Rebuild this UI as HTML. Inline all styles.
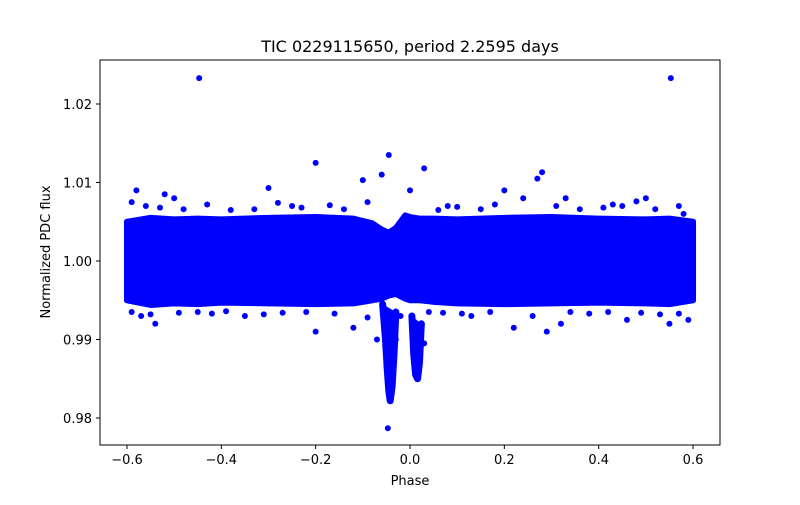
<!DOCTYPE html>
<html><head><meta charset="utf-8"><style>
body{margin:0;background:#fff}
svg text{font-family:"DejaVu Sans","Liberation Sans",sans-serif;fill:#000}
</style></head><body>
<svg id="chart" width="800" height="500" viewBox="0 0 800 500">
<rect x="0" y="0" width="800" height="500" fill="#fff"/>
<text x="410" y="52" font-size="16" text-anchor="middle">TIC 0229115650, period 2.2595 days</text>
<g id="marks"></g>
<rect x="100" y="60" width="620" height="385" fill="none" stroke="#000" stroke-width="1"/>
<g id="axes"></g>
<text x="410" y="485" font-size="13" text-anchor="middle">Phase</text>
<text x="50" y="252" font-size="13" text-anchor="middle" transform="rotate(-90 50 252)">Normalized PDC flux</text>
</svg>
<script>
const xTicks=[-0.6,-0.4,-0.2,0.0,0.2,0.4,0.6];
const xTickLabels=["−0.6","−0.4","−0.2","0.0","0.2","0.4","0.6"];
const yTicks=[0.98,0.99,1.00,1.01,1.02];
const yTickLabels=["0.98","0.99","1.00","1.01","1.02"];
// dense band envelope
const bandPhase=[-0.6,-0.55,-0.5,-0.45,-0.4,-0.3,-0.2,-0.12,-0.08,-0.06,-0.045,-0.03,-0.01,0.0,0.02,0.05,0.1,0.2,0.3,0.4,0.5,0.55,0.6];
const bandUpper=[1.0050,1.0055,1.0053,1.0054,1.0053,1.0055,1.0056,1.0054,1.0048,1.0040,1.0036,1.0042,1.0058,1.0056,1.0054,1.0054,1.0053,1.0055,1.0056,1.0054,1.0053,1.0054,1.0050];
const bandLower=[0.9950,0.9944,0.9946,0.9945,0.9947,0.9946,0.9945,0.9946,0.9950,0.9952,0.9956,0.9958,0.9952,0.9950,0.9950,0.9948,0.9946,0.9945,0.9946,0.9947,0.9946,0.9945,0.9950];
// primary and secondary dips
const dip1Phase=[-0.058,-0.052,-0.048,-0.045,-0.042,-0.038,-0.034,-0.03];
const dip1Flux=[0.9945,0.9900,0.9860,0.9835,0.9822,0.9840,0.9880,0.9935];
const dip2Phase=[0.004,0.008,0.012,0.016,0.020,0.024];
const dip2Flux=[0.9930,0.9880,0.9855,0.9850,0.9870,0.9920];
// sparse outliers
const outPhase=[-0.447,0.553,-0.2,-0.045,0.03,0.28,-0.047,-0.58,-0.52,-0.5,-0.3,-0.25,-0.1,-0.06,0.0,0.08,0.2,0.27,0.33,0.45,0.5,0.58,-0.57,-0.54,-0.45,-0.35,-0.2,-0.12,-0.07,0.03,0.13,0.22,0.29,0.32,0.46,0.55,0.59,-0.02,0.04,-0.03,0.025,
 -0.59,-0.56,-0.53,-0.48,-0.43,-0.38,-0.33,-0.28,-0.23,-0.17,-0.14,-0.09,0.06,0.1,0.15,0.18,0.24,0.31,0.36,0.41,0.43,0.48,0.52,0.57,
 -0.59,-0.55,-0.49,-0.42,-0.39,-0.31,-0.27,-0.22,-0.16,-0.09,0.07,0.11,0.17,0.26,0.34,0.38,0.42,0.49,0.53,0.57];
const outFlux=[1.0233,1.0233,1.0125,1.0135,1.0118,1.0113,0.9787,1.0090,1.0085,1.0080,1.0093,1.0070,1.0103,1.0110,1.0090,1.0070,1.0090,1.0105,1.0080,1.0070,1.0080,1.0060,0.9930,0.9920,0.9935,0.9930,0.9910,0.9915,0.9900,0.9895,0.9930,0.9915,0.9910,0.9920,0.9925,0.9920,0.9925,0.9930,0.9935,0.9900,0.9920,
 1.0075,1.0070,1.0068,1.0066,1.0072,1.0065,1.0066,1.0074,1.0068,1.0071,1.0066,1.0075,1.0065,1.0069,1.0066,1.0072,1.0080,1.0070,1.0066,1.0068,1.0072,1.0076,1.0066,1.0070,
 0.9935,0.9932,0.9934,0.9933,0.9936,0.9932,0.9934,0.9935,0.9933,0.9928,0.9934,0.9933,0.9935,0.9930,0.9935,0.9933,0.9935,0.9934,0.9932,0.9933];
const X=p=>410+p*471.7;
const Y=f=>261-(f-1)*7850;
const NS="http://www.w3.org/2000/svg";
const marks=document.getElementById('marks');
const axes=document.getElementById('axes');
function mk(tag,attrs,parent){const e=document.createElementNS(NS,tag);for(const k in attrs)e.setAttribute(k,attrs[k]);parent.appendChild(e);return e;}
let pts=bandPhase.map((p,i)=>X(p)+','+Y(bandUpper[i]));
for(let i=bandPhase.length-1;i>=0;i--)pts.push(X(bandPhase[i])+','+Y(bandLower[i]));
const band=mk('polygon',{points:pts.join(' '),fill:'#0000ff',stroke:'#0000ff','stroke-width':6,'stroke-linejoin':'round'},marks);


function dip(ph,fl,name){
  const poly=ph.map((p,i)=>X(p)+','+Y(fl[i])).join(' ');
  const l=mk('polyline',{points:poly,fill:'#0000ff',stroke:'#0000ff','stroke-width':7,'stroke-linejoin':'round','stroke-linecap':'round'},marks);
  
  
}
dip(dip1Phase,dip1Flux,'primary-eclipse');
dip(dip2Phase,dip2Flux,'secondary-dip');
outPhase.forEach((p,i)=>{
  const c=mk('circle',{cx:X(p),cy:Y(outFlux[i]),r:3,fill:'#0000ff'},marks);
  
  
});
xTicks.forEach((t,i)=>{
  const g=mk('g',{},axes);
  
  
  mk('line',{x1:X(t),x2:X(t),y1:445,y2:449,stroke:'#000'},g);
  const tx=mk('text',{x:X(t),y:464,'font-size':13,'text-anchor':'middle'},g);tx.textContent=xTickLabels[i];
});
yTicks.forEach((t,i)=>{
  const g=mk('g',{},axes);
  
  
  mk('line',{x1:96,x2:100,y1:Y(t),y2:Y(t),stroke:'#000'},g);
  const tx=mk('text',{x:92,y:Y(t)+5,'font-size':13,'text-anchor':'end'},g);tx.textContent=yTickLabels[i];
});
</script>
</body></html>
